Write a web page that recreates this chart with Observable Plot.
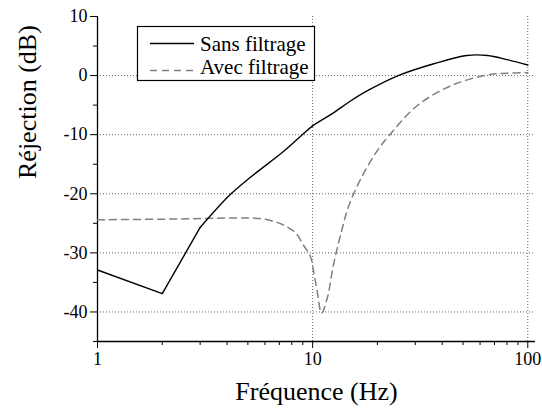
<!DOCTYPE html>
<html>
<head>
<meta charset="utf-8">
<script src="https://cdn.jsdelivr.net/npm/d3@7"></script>
<script src="https://cdn.jsdelivr.net/npm/@observablehq/plot@0.6"></script>
<style>
  html, body { margin: 0; padding: 0; background: white; }
  #wrap { position: relative; width: 542px; height: 414px; font-family: "Liberation Serif", "Times New Roman", Times, serif; }
  #wrap svg text { font-family: "Liberation Serif", "Times New Roman", Times, serif; }
  #legend { position: absolute; left: 0; top: 0; pointer-events: none; }
</style>
</head>
<body>
<div id="wrap"></div>
<script>
// Sans filtrage (solid)
const sansFreq = [1, 2, 3, 4.15, 5.14, 7.34, 8.9, 10, 12.5, 15, 17.9, 25, 36.6, 52, 65, 80, 100];
const sansDb   = [-32.9, -36.9, -25.7, -20.1, -17.2, -12.8, -10.1, -8.5, -6.3, -4.3, -2.6, 0.0, 2.0, 3.4, 3.4, 2.7, 1.8];

// Avec filtrage (dashed)
const avecFreq = [1, 2, 3, 4, 5, 5.73, 6.48, 7.34, 8.32, 9.1, 9.77, 10.1, 10.5, 11.0, 11.7, 12.5, 13.5, 14.7, 17, 19.9, 22.6, 30.6, 43.7, 64.7, 80, 100];
const avecDb   = [-24.4, -24.3, -24.2, -24.1, -24.1, -24.2, -24.6, -25.3, -26.6, -28.8, -30.6, -33.1, -36.5, -40.2, -37.6, -32.0, -26.9, -22.1, -17.0, -12.8, -10.2, -5.1, -1.75, 0.1, 0.4, 0.5];

const seriesNames = ["Sans filtrage", "Avec filtrage"];
const xMajor = [1, 10, 100];
const xMinor = [2, 3, 4, 5, 6, 7, 8, 9, 20, 30, 40, 50, 60, 70, 80, 90];
const yMajor = [-40, -30, -20, -10, 0, 10];
const yMinor = [-45, -35, -25, -15, -5, 5];
const yGrid = [-40, -30, -20, -10, 0];
const xGrid = [10, 100];
const xTitle = "Fréquence (Hz)";
const yTitle = "Réjection (dB)";

const sans = sansFreq.map((f, i) => ({f, db: sansDb[i]}));
const avec = avecFreq.map((f, i) => ({f, db: avecDb[i]}));
const sansLow = sans.filter(d => d.f <= 3);
const sansHigh = sans.filter(d => d.f >= 3);

const FONT = "'Liberation Serif', 'Times New Roman', Times, serif";
const gridStyle = {stroke: "#666", strokeOpacity: 1, strokeDasharray: "1,2", strokeWidth: 1};

const chart = Plot.plot({
  width: 542,
  height: 414,
  marginLeft: 97,
  marginRight: 7,
  marginTop: 16,
  marginBottom: 73,
  x: {type: "log", domain: [1, 108.6]},
  y: {domain: [-45, 10]},
  style: {fontFamily: FONT, fontSize: "18px", color: "black", background: "white"},
  marks: [
    Plot.gridY(yGrid, gridStyle),
    Plot.gridX(xGrid, gridStyle),
    Plot.ruleX([1], {stroke: "black", strokeWidth: 1.3}),
    Plot.ruleY([-45], {stroke: "black", strokeWidth: 1.3}),
    Plot.axisX(xMajor, {tickSize: 7, tickPadding: 4, tickFormat: d => String(d), label: null, fontSize: 18, stroke: "black"}),
    Plot.axisX(xMinor, {tickSize: 4, tickFormat: () => "", label: null, stroke: "black"}),
    Plot.axisY(yMajor, {tickSize: 7, tickPadding: 3, tickFormat: d => String(d), label: null, fontSize: 18, stroke: "black"}),
    Plot.axisY(yMinor, {tickSize: 4, tickFormat: () => "", label: null, stroke: "black"}),
    Plot.line(avec, {x: "f", y: "db", stroke: "#808080", strokeWidth: 1.5, strokeDasharray: "7,5", curve: "catmull-rom"}),
    Plot.line(sansLow, {x: "f", y: "db", stroke: "black", strokeWidth: 1.4}),
    Plot.line(sansHigh, {x: "f", y: "db", stroke: "black", strokeWidth: 1.4, curve: "catmull-rom"}),
    Plot.text([yTitle], {text: d => d, frameAnchor: "left", dx: -70, rotate: -90, fontSize: 26, fill: "black"}),
    Plot.text([xTitle], {text: d => d, frameAnchor: "bottom", dy: 58, fontSize: 26, fill: "black"})
  ]
});
document.getElementById("wrap").appendChild(chart);

// Legend overlay (inside the plot frame, top-left)
const ns = "http://www.w3.org/2000/svg";
const lg = document.createElementNS(ns, "svg");
lg.setAttribute("id", "legend");
lg.setAttribute("width", 542);
lg.setAttribute("height", 414);
lg.innerHTML = `
  <rect x="137.5" y="26.5" width="177" height="54" fill="white" stroke="black" stroke-width="1.2"/>
  <line x1="150" y1="43.5" x2="194" y2="43.5" stroke="black" stroke-width="1.4"/>
  <line x1="150" y1="70.5" x2="194" y2="70.5" stroke="#808080" stroke-width="1.5" stroke-dasharray="7,5"/>
  <text x="200" y="50.5" font-size="21" fill="black">${seriesNames[0]}</text>
  <text x="200" y="74" font-size="21" fill="black">${seriesNames[1]}</text>
`;
document.getElementById("wrap").appendChild(lg);
</script>
</body>
</html>
